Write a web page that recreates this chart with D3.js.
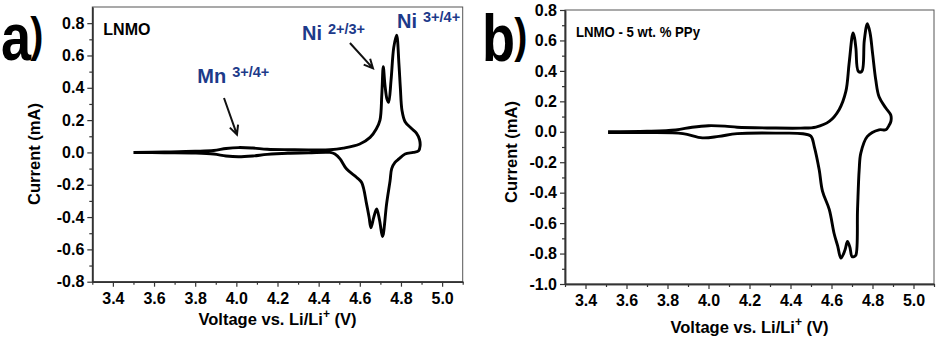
<!DOCTYPE html>
<html>
<head>
<meta charset="utf-8">
<script src="https://cdn.jsdelivr.net/npm/d3@7"></script>
<style>
  html, body { margin: 0; padding: 0; background: #fff; }
  svg { display: block; font-family: 'Liberation Sans', Arial, sans-serif; }
</style>
</head>
<body>
<svg id="chart" width="939" height="339"></svg>
<script>
// Panel a) LNMO - one CV loop, anodic sweep then cathodic sweep
const voltageA = [3.50, 3.65, 3.80, 3.89, 3.95, 4.01, 4.08, 4.15, 4.25, 4.35, 4.455, 4.52, 4.60, 4.65, 4.68, 4.698,
  4.707, 4.714, 4.722, 4.732, 4.740, 4.752, 4.765, 4.779, 4.790, 4.797, 4.805, 4.82, 4.85, 4.875, 4.89, 4.893,
  4.886, 4.86, 4.82, 4.79, 4.771, 4.755, 4.747, 4.73, 4.714, 4.71, 4.696, 4.682, 4.668, 4.654, 4.645, 4.633,
  4.609, 4.585, 4.536, 4.504, 4.479, 4.455, 4.35, 4.25, 4.15, 4.08, 4.01, 3.95, 3.89, 3.80, 3.65, 3.50]
const currentA = [0.0, 0.003, 0.007, 0.012, 0.024, 0.03, 0.027, 0.02, 0.017, 0.016, 0.017, 0.027, 0.052, 0.093, 0.145, 0.20,
  0.36, 0.53, 0.42, 0.33, 0.31, 0.45, 0.65, 0.725, 0.55, 0.40, 0.26, 0.19, 0.15, 0.12, 0.08, 0.04,
  0.01, 0.0, -0.01, -0.04, -0.062, -0.10, -0.176, -0.32, -0.507, -0.52, -0.42, -0.35, -0.40, -0.466, -0.40, -0.32,
  -0.186, -0.155, -0.103, -0.04, -0.01, 0.0, -0.003, -0.005, -0.012, -0.022, -0.027, -0.022, -0.01, -0.004, -0.002, 0.0]

// Panel b) LNMO - 5 wt. % PPy
const voltageB = [3.51, 3.70, 3.84, 3.92, 4.00, 4.08, 4.14, 4.30, 4.45, 4.524, 4.589, 4.637, 4.67, 4.686, 4.705,
  4.712, 4.719, 4.731, 4.748, 4.76, 4.775, 4.788, 4.80, 4.816, 4.832, 4.865, 4.889, 4.89, 4.88, 4.865, 4.832,
  4.775, 4.743, 4.735, 4.727, 4.719, 4.71, 4.70, 4.69, 4.678, 4.665, 4.646, 4.63, 4.613, 4.589, 4.556, 4.54,
  4.516, 4.50, 4.46, 4.35, 4.14, 4.05, 3.97, 3.875, 3.70, 3.51]
const currentB = [0.0, 0.003, 0.012, 0.03, 0.04, 0.037, 0.03, 0.025, 0.024, 0.031, 0.068, 0.145, 0.265, 0.45, 0.65,
  0.62, 0.55, 0.397, 0.397, 0.60, 0.71, 0.65, 0.52, 0.34, 0.23, 0.156, 0.11, 0.07, 0.04, 0.013, 0.013,
  -0.03, -0.14, -0.25, -0.51, -0.81, -0.82, -0.82, -0.76, -0.72, -0.78, -0.83, -0.75, -0.67, -0.51, -0.39, -0.25,
  -0.097, -0.03, -0.013, -0.009, -0.012, -0.03, -0.04, -0.012, -0.005, -0.005]

// Tick labels
const xTicks = [3.4, 3.6, 3.8, 4.0, 4.2, 4.4, 4.6, 4.8, 5.0]
const yTicksA = [-0.8, -0.6, -0.4, -0.2, 0.0, 0.2, 0.4, 0.6, 0.8]
const yTicksB = [-1.0, -0.8, -0.6, -0.4, -0.2, 0.0, 0.2, 0.4, 0.6, 0.8]

// Peak annotations for panel a) : [label, superscript, voltage, current]
const peakLabels = [
  ['Mn', '3+/4+', 3.81, 0.43],
  ['Ni', '2+/3+', 4.319, 0.696],
  ['Ni', '3+/4+', 4.781, 0.77]
]
// arrows: [fromV, fromI, toV, toI]
const peakArrows = [
  [3.94, 0.337, 4.003, 0.11],
  [4.552, 0.677, 4.664, 0.52]
]

const svg = d3.select('#chart')
const annColor = '#1d3a8a'
const fmt = d => d.toFixed(1) // hyphen minus like the original

function drawPanel(cfg) {
  const x = d3.scaleLinear().domain([3.3, 5.1]).range([cfg.left, cfg.right])
  const y = d3.scaleLinear().domain(cfg.yDomain).range([cfg.bottom, cfg.top])
  const g = svg.append('g')

  // frame
  g.append('rect')
    .attr('x', cfg.left)
    .attr('y', cfg.top)
    .attr('width', cfg.right - cfg.left)
    .attr('height', cfg.bottom - cfg.top)
    .attr('fill', 'none')
    .attr('stroke', '#555')
    .attr('stroke-width', 1)

  // minor ticks (every 0.1)
  const xMinor = d3.range(3.3, 5.11, 0.2).map(v => +v.toFixed(1))
  const yMinor = d3.range(cfg.yDomain[0] + 0.1, cfg.yDomain[1], 0.2).map(v => +v.toFixed(1))
  g.append('g')
    .attr('transform', `translate(0,${cfg.bottom})`)
    .call(d3.axisBottom(x).tickValues(xMinor).tickSize(3).tickSizeOuter(0).tickFormat(''))
  g.append('g')
    .attr('transform', `translate(${cfg.left},0)`)
    .call(d3.axisLeft(y).tickValues(yMinor).tickSize(3).tickSizeOuter(0).tickFormat(''))

  // major axes
  g.append('g')
    .attr('class', 'axis')
    .attr('transform', `translate(0,${cfg.bottom})`)
    .call(d3.axisBottom(x).tickValues(xTicks).tickSize(5).tickSizeOuter(0).tickPadding(6).tickFormat(fmt))
  g.append('g')
    .attr('class', 'axis')
    .attr('transform', `translate(${cfg.left},0)`)
    .call(d3.axisLeft(y).tickValues(cfg.yTicks).tickSize(5).tickSizeOuter(0).tickPadding(3).tickFormat(fmt))

  g.selectAll('.domain').attr('stroke', '#333').attr('stroke-width', 1.5)
  g.selectAll('.tick line').attr('stroke', '#333').attr('stroke-width', 1.2)
  g.selectAll('.axis text')
    .attr('font-family', "'Liberation Sans', Arial, sans-serif")
    .attr('font-size', 16)
    .attr('font-weight', 'bold')
    .attr('fill', '#000')

  // axis titles
  const xt = g.append('text')
    .attr('x', (cfg.left + cfg.right) / 2)
    .attr('y', cfg.xTitleY)
    .attr('text-anchor', 'middle')
    .attr('font-size', 16.5)
    .attr('font-weight', 'bold')
    .text('Voltage vs. Li/Li')
  xt.append('tspan').attr('dy', -7).attr('font-size', 12).text('+')
  xt.append('tspan').attr('dy', 7).text(' (V)')

  g.append('text')
    .attr('transform', `translate(${cfg.yTitleX},${cfg.yTitleY}) rotate(-90)`)
    .attr('text-anchor', 'middle')
    .attr('font-size', 16.5)
    .attr('font-weight', 'bold')
    .text('Current (mA)')

  // inner label
  const lbl = g.append('text')
    .attr('x', cfg.left + 11)
    .attr('y', cfg.labelY)
    .attr('font-size', cfg.labelSize)
    .attr('font-weight', 'bold')
    .text(cfg.label)
  if (cfg.labelWidth) lbl.attr('textLength', cfg.labelWidth).attr('lengthAdjust', 'spacingAndGlyphs')

  // panel letter, condensed like the original
  const letter = g.append('text')
    .attr('transform', `translate(${cfg.letterX},${cfg.letterY}) scale(0.82,1)`)
    .attr('font-size', 66)
    .attr('font-weight', 'bold')
    .text(cfg.letter)
  letter.append('tspan')
    .attr('dx', -1)
    .attr('dy', -9)
    .attr('font-size', 48)
    .text(')')

  // CV curve
  const line = d3.line()
    .x(d => x(d[0]))
    .y(d => y(d[1]))
    .curve(d3.curveCatmullRom.alpha(0.5))
  g.append('path')
    .datum(d3.zip(cfg.voltage, cfg.current))
    .attr('d', line)
    .attr('fill', 'none')
    .attr('stroke', '#000')
    .attr('stroke-width', 2.9)
    .attr('stroke-linejoin', 'round')

  return { g, x, y }
}

const panelA = drawPanel({
  left: 92.3, right: 462.7, top: 7, bottom: 281.7,
  yDomain: [-0.8, 0.9], yTicks: yTicksA,
  voltage: voltageA, current: currentA,
  xTitleY: 325, yTitleX: 40, yTitleY: 154,
  label: 'LNMO', labelY: 35, labelSize: 16,
  letter: 'a', letterX: 1, letterY: 60
})

drawPanel({
  left: 565, right: 934, top: 10, bottom: 284,
  yDomain: [-1.0, 0.8], yTicks: yTicksB,
  voltage: voltageB, current: currentB,
  xTitleY: 333, yTitleX: 517, yTitleY: 152,
  label: 'LNMO - 5 wt. % PPy', labelY: 37, labelSize: 15, labelWidth: 124,
  letter: 'b', letterX: 482, letterY: 61
})

// peak annotations on panel a)
peakLabels.forEach(([main, sup, v, i]) => {
  const t = panelA.g.append('text')
    .attr('x', panelA.x(v))
    .attr('y', panelA.y(i))
    .attr('fill', annColor)
    .attr('font-size', 20)
    .attr('font-weight', 'bold')
    .text(main)
  t.append('tspan')
    .attr('dx', 6)
    .attr('dy', -6)
    .attr('font-size', 14.5)
    .text(sup)
})

peakArrows.forEach(([v0, i0, v1, i1]) => {
  const x0 = panelA.x(v0), y0 = panelA.y(i0)
  const x1 = panelA.x(v1), y1 = panelA.y(i1)
  const ang = Math.atan2(y1 - y0, x1 - x0)
  const head = 10, spread = 0.45
  const p = d3.path()
  p.moveTo(x0, y0)
  p.lineTo(x1, y1)
  p.moveTo(x1 - head * Math.cos(ang - spread), y1 - head * Math.sin(ang - spread))
  p.lineTo(x1, y1)
  p.lineTo(x1 - head * Math.cos(ang + spread), y1 - head * Math.sin(ang + spread))
  panelA.g.append('path')
    .attr('d', p.toString())
    .attr('fill', 'none')
    .attr('stroke', '#111')
    .attr('stroke-width', 2)
})
</script>
</body>
</html>
